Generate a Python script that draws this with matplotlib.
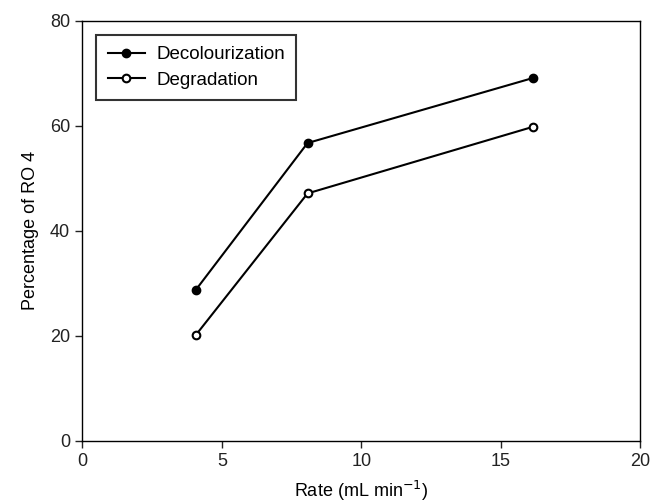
import matplotlib.pyplot as plt

rate = [4.06, 8.07, 16.16]
decolourization = [28.7, 56.7, 69.1]
degradation = [20.1, 47.1, 59.8]

x_ticks = [0, 5, 10, 15, 20]
y_ticks = [0, 20, 40, 60, 80]

plt.rcParams['font.family'] = ['Liberation Sans', 'DejaVu Sans']

fig = plt.figure(figsize=(6.52, 5.04), dpi=100)
ax = fig.add_axes([0.1265, 0.1256, 0.8555, 0.8333])

ax.plot(rate, decolourization, 'k-', marker='o', markersize=6,
        markerfacecolor='k', linewidth=1.5, label='Decolourization')
ax.plot(rate, degradation, 'k-', marker='o', markersize=5.5,
        markerfacecolor='white', markeredgewidth=1.5, linewidth=1.5,
        label='Degradation')

ax.set_xlim(0, 20)
ax.set_ylim(0, 80)
ax.set_xticks(x_ticks)
ax.set_yticks(y_ticks)
ax.tick_params(direction='out', length=5, width=1, labelsize=13,
               colors='#222222', pad=4)
for s in ax.spines.values():
    s.set_linewidth(1)

ax.set_xlabel('Rate (mL min$^{-1}$)', fontsize=13, labelpad=6)
ax.set_ylabel('Percentage of RO 4', fontsize=13, labelpad=8)

leg = ax.legend(loc='upper left', bbox_to_anchor=(0.025, 0.966), fontsize=13.5,
                frameon=True, fancybox=False, handlelength=2.0,
                borderaxespad=0, borderpad=0.6, labelspacing=0.45,
                handletextpad=0.6)
leg.get_frame().set_edgecolor('black')
leg.get_frame().set_linewidth(1.5)

fig.savefig('out.png', dpi=100)
